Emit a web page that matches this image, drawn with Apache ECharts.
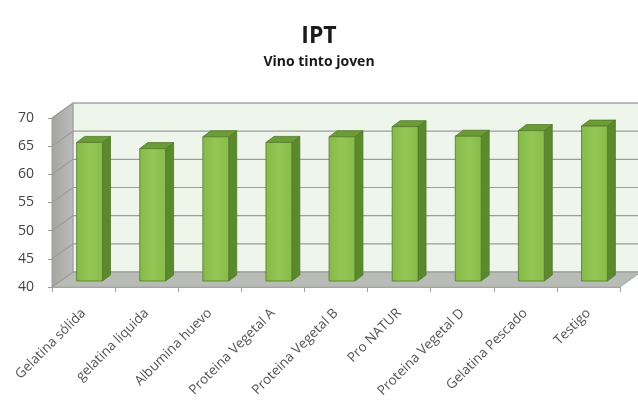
<!DOCTYPE html>
<html>
<head>
<meta charset="utf-8">
<script src="https://cdn.jsdelivr.net/npm/echarts@6/dist/echarts.min.js"></script>
<style>
  html, body { margin: 0; padding: 0; background: #fff; }
  #chart { width: 638px; height: 403px; }
</style>
</head>
<body>
<div id="chart"></div>
<script>
// datos
const categories = ['Gelatina sólida', 'gelatina liquida', 'Albumina huevo', 'Proteina Vegetal A', 'Proteina Vegetal B', 'Pro NATUR', 'Proteina Vegetal D', 'Gelatina Pescado', 'Testigo']
const values = [64.6, 63.5, 65.6, 64.6, 65.6, 67.4, 65.7, 66.7, 67.5]
const yTicks = [40, 45, 50, 55, 60, 65, 70]

// falso 3D: desplazamiento de la pared del fondo y de las barras
const DEPTH = [21, -15]
const BAR_SHIFT = [6, -6]
const BAR_DEPTH = [8, -6]

const chart = echarts.init(document.getElementById('chart'))

function renderWalls(params, api) {
  const cs = params.coordSys
  const x0 = cs.x
  const x1 = cs.x + cs.width
  const yTop = api.coord([0, yTicks[yTicks.length - 1]])[1]
  const yBot = api.coord([0, yTicks[0]])[1]
  const [dx, dy] = DEPTH
  const children = []

  // pared del fondo
  children.push({
    type: 'polygon',
    shape: { points: [[x0 + dx, yTop + dy], [x1 + dx + 20, yTop + dy], [x1 + dx + 20, yBot + dy], [x0 + dx, yBot + dy]] },
    style: { fill: '#eef5ea', stroke: '#b8b8b8', lineWidth: 1 }
  })
  // pared izquierda
  children.push({
    type: 'polygon',
    shape: { points: [[x0, yTop], [x0 + dx, yTop + dy], [x0 + dx, yBot + dy], [x0, yBot]] },
    style: {
      fill: new echarts.graphic.LinearGradient(0, 0, 1, 0, [
        { offset: 0, color: '#a4a5a3' },
        { offset: 1, color: '#bcbdbb' }
      ]),
      stroke: '#9a9a9a', lineWidth: 1
    }
  })
  // suelo
  children.push({
    type: 'polygon',
    shape: { points: [[x0, yBot], [x1, yBot], [x1 + dx, yBot + dy], [x0 + dx, yBot + dy]] },
    style: { fill: '#b9bcb6', stroke: '#a6a8a3', lineWidth: 1 }
  })
  // líneas de división
  yTicks.forEach(function (v) {
    const y = api.coord([0, v])[1]
    children.push({
      type: 'polyline',
      shape: { points: [[x0, y], [x0 + dx, y + dy], [x1 + dx + 20, y + dy]] },
      style: { fill: null, stroke: '#9c9c9c', lineWidth: 1.2 }
    })
  })
  return { type: 'group', children: children }
}

function renderBar(params, api) {
  const idx = api.value(0)
  const top = api.coord([idx, api.value(1)])
  const base = api.coord([idx, yTicks[0]])
  const w = api.size([1, 0])[0] * 0.41
  const xl = top[0] - w / 2 + BAR_SHIFT[0]
  const xr = top[0] + w / 2 + BAR_SHIFT[0]
  const yt = top[1] + BAR_SHIFT[1]
  const yb = base[1] + BAR_SHIFT[1]
  const [bx, by] = BAR_DEPTH
  const edge = '#52792a'
  return {
    type: 'group',
    children: [
      {
        type: 'polygon',
        shape: { points: [[xr, yt], [xr + bx, yt + by], [xr + bx, yb + by], [xr, yb]] },
        style: { fill: '#5a8a2c', stroke: edge, lineWidth: 0.8 }
      },
      {
        type: 'polygon',
        shape: { points: [[xl, yt], [xr, yt], [xr + bx, yt + by], [xl + bx, yt + by]] },
        style: { fill: '#6c9c36', stroke: edge, lineWidth: 0.8 }
      },
      {
        type: 'rect',
        shape: { x: xl, y: yt, width: xr - xl, height: yb - yt },
        style: {
          fill: new echarts.graphic.LinearGradient(0, 0, 1, 0, [
            { offset: 0, color: '#86ba48' },
            { offset: 0.5, color: '#94c655' },
            { offset: 1, color: '#88bc4a' }
          ]),
          stroke: edge, lineWidth: 0.8
        }
      }
    ]
  }
}

chart.setOption({
  animation: false,
  title: {
    text: 'IPT',
    subtext: 'Vino tinto joven',
    left: 'center',
    top: 20,
    itemGap: 7,
    textStyle: { fontFamily: 'Open Sans', fontSize: 23, fontWeight: 'bold', color: '#1a1a1a' },
    subtextStyle: { fontFamily: 'Open Sans', fontSize: 14, fontWeight: 'bold', color: '#1a1a1a' }
  },
  grid: { left: 52, top: 118, width: 568, height: 169 },
  xAxis: {
    type: 'category',
    data: categories,
    axisLine: { lineStyle: { color: '#a0a0a0' } },
    axisTick: { show: true, length: 5, lineStyle: { color: '#a0a0a0' } },
    axisLabel: { rotate: 45, margin: 24, fontFamily: 'Open Sans', fontSize: 13.5, color: '#555' },
    splitLine: { show: false }
  },
  yAxis: {
    type: 'value',
    min: 40,
    max: 70,
    interval: 5,
    axisLine: { show: true, lineStyle: { color: '#9a9a9a' } },
    axisTick: { show: true, length: 4, lineStyle: { color: '#9a9a9a' } },
    axisLabel: { margin: 18, fontFamily: 'Open Sans', fontSize: 14, color: '#444' },
    splitLine: { show: false }
  },
  series: [
    {
      type: 'custom',
      name: 'paredes',
      silent: true,
      z: 1,
      data: [[0, 40]],
      renderItem: renderWalls
    },
    {
      type: 'custom',
      name: 'IPT',
      z: 3,
      data: values.map(function (v, i) { return [i, v] }),
      encode: { x: 0, y: 1 },
      renderItem: renderBar
    }
  ]
})
</script>
</body>
</html>
